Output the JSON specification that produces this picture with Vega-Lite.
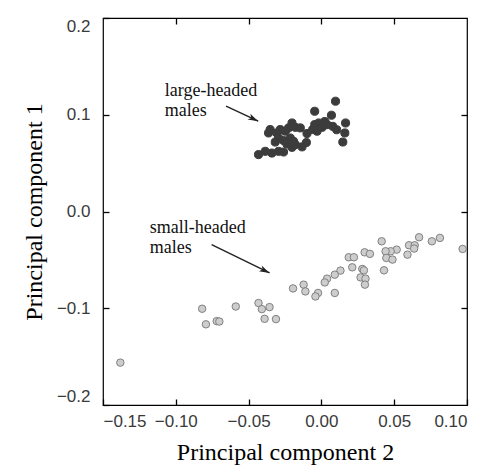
{
  "$schema": "https://vega.github.io/schema/vega-lite/v6.json",
  "width": 364,
  "height": 387,
  "autosize": "none",
  "padding": {"left": 103, "top": 18, "right": 19, "bottom": 64},
  "background": "white",
  "config": {
    "view": {"stroke": "black", "strokeWidth": 1.2},
    "axis": {
      "domain": false,
      "grid": false,
      "tickColor": "black",
      "tickWidth": 1.3,
      "tickSize": 6,
      "offset": -6,
      "labelFont": "Liberation Sans",
      "labelFontSize": 17,
      "labelColor": "#3a3a3a",
      "titleFont": "Liberation Serif",
      "titleFontSize": 24,
      "titleFontWeight": "normal",
      "titleColor": "black"
    }
  },
  "datasets": {
    "pts": [
      {"pc2": 0.0097, "pc1": 0.114, "group": "large"},
      {"pc2": -0.0046, "pc1": 0.1036, "group": "large"},
      {"pc2": 0.0069, "pc1": 0.0995, "group": "large"},
      {"pc2": 0.0166, "pc1": 0.0915, "group": "large"},
      {"pc2": 0.0161, "pc1": 0.0812, "group": "large"},
      {"pc2": 0.0147, "pc1": 0.0718, "group": "large"},
      {"pc2": 0.0078, "pc1": 0.088, "group": "large"},
      {"pc2": 0.0023, "pc1": 0.093, "group": "large"},
      {"pc2": -0.0019, "pc1": 0.0915, "group": "large"},
      {"pc2": -0.0046, "pc1": 0.0898, "group": "large"},
      {"pc2": -0.006, "pc1": 0.0847, "group": "large"},
      {"pc2": -0.003, "pc1": 0.083, "group": "large"},
      {"pc2": 0.0005, "pc1": 0.087, "group": "large"},
      {"pc2": 0.0039, "pc1": 0.0898, "group": "large"},
      {"pc2": 0.0105, "pc1": 0.0845, "group": "large"},
      {"pc2": -0.0099, "pc1": 0.0806, "group": "large"},
      {"pc2": -0.0103, "pc1": 0.0713, "group": "large"},
      {"pc2": -0.0202, "pc1": 0.0915, "group": "large"},
      {"pc2": -0.0179, "pc1": 0.087, "group": "large"},
      {"pc2": -0.0145, "pc1": 0.0864, "group": "large"},
      {"pc2": -0.0225, "pc1": 0.0864, "group": "large"},
      {"pc2": -0.0248, "pc1": 0.083, "group": "large"},
      {"pc2": -0.0283, "pc1": 0.0847, "group": "large"},
      {"pc2": -0.0306, "pc1": 0.0812, "group": "large"},
      {"pc2": -0.0352, "pc1": 0.0847, "group": "large"},
      {"pc2": -0.0363, "pc1": 0.0812, "group": "large"},
      {"pc2": -0.0294, "pc1": 0.076, "group": "large"},
      {"pc2": -0.0317, "pc1": 0.0718, "group": "large"},
      {"pc2": -0.026, "pc1": 0.0733, "group": "large"},
      {"pc2": -0.0214, "pc1": 0.076, "group": "large"},
      {"pc2": -0.0191, "pc1": 0.0725, "group": "large"},
      {"pc2": -0.0237, "pc1": 0.0698, "group": "large"},
      {"pc2": -0.0202, "pc1": 0.0663, "group": "large"},
      {"pc2": -0.0179, "pc1": 0.0691, "group": "large"},
      {"pc2": -0.026, "pc1": 0.0615, "group": "large"},
      {"pc2": -0.0294, "pc1": 0.0622, "group": "large"},
      {"pc2": -0.034, "pc1": 0.0604, "group": "large"},
      {"pc2": -0.0386, "pc1": 0.0622, "group": "large"},
      {"pc2": -0.0432, "pc1": 0.0588, "group": "large"},
      {"pc2": -0.0133, "pc1": 0.0668, "group": "large"},
      {"pc2": 0.0414, "pc1": -0.0308, "group": "small"},
      {"pc2": 0.0671, "pc1": -0.0266, "group": "small"},
      {"pc2": 0.0759, "pc1": -0.0308, "group": "small"},
      {"pc2": 0.0814, "pc1": -0.0273, "group": "small"},
      {"pc2": 0.097, "pc1": -0.0387, "group": "small"},
      {"pc2": 0.0602, "pc1": -0.0349, "group": "small"},
      {"pc2": 0.0641, "pc1": -0.0349, "group": "small"},
      {"pc2": 0.0637, "pc1": -0.0383, "group": "small"},
      {"pc2": 0.0591, "pc1": -0.0446, "group": "small"},
      {"pc2": 0.0517, "pc1": -0.0394, "group": "small"},
      {"pc2": 0.0476, "pc1": -0.0411, "group": "small"},
      {"pc2": 0.0441, "pc1": -0.0411, "group": "small"},
      {"pc2": 0.0446, "pc1": -0.048, "group": "small"},
      {"pc2": 0.0488, "pc1": -0.0497, "group": "small"},
      {"pc2": 0.043, "pc1": -0.0608, "group": "small"},
      {"pc2": 0.0297, "pc1": -0.0422, "group": "small"},
      {"pc2": 0.0333, "pc1": -0.0438, "group": "small"},
      {"pc2": 0.0188, "pc1": -0.0473, "group": "small"},
      {"pc2": 0.0223, "pc1": -0.0473, "group": "small"},
      {"pc2": 0.0212, "pc1": -0.0577, "group": "small"},
      {"pc2": 0.0281, "pc1": -0.0594, "group": "small"},
      {"pc2": 0.0292, "pc1": -0.0608, "group": "small"},
      {"pc2": 0.0269, "pc1": -0.0681, "group": "small"},
      {"pc2": 0.0303, "pc1": -0.0694, "group": "small"},
      {"pc2": 0.0299, "pc1": -0.0756, "group": "small"},
      {"pc2": 0.0131, "pc1": -0.0611, "group": "small"},
      {"pc2": 0.0092, "pc1": -0.0653, "group": "small"},
      {"pc2": 0.0039, "pc1": -0.0694, "group": "small"},
      {"pc2": 0.0023, "pc1": -0.0733, "group": "small"},
      {"pc2": 0.0092, "pc1": -0.0842, "group": "small"},
      {"pc2": -0.0023, "pc1": -0.0842, "group": "small"},
      {"pc2": -0.0041, "pc1": -0.0878, "group": "small"},
      {"pc2": -0.0122, "pc1": -0.0756, "group": "small"},
      {"pc2": -0.011, "pc1": -0.0826, "group": "small"},
      {"pc2": -0.0195, "pc1": -0.0795, "group": "small"},
      {"pc2": -0.0819, "pc1": -0.1005, "group": "small"},
      {"pc2": -0.0793, "pc1": -0.1166, "group": "small"},
      {"pc2": -0.0719, "pc1": -0.1133, "group": "small"},
      {"pc2": -0.0701, "pc1": -0.1137, "group": "small"},
      {"pc2": -0.0588, "pc1": -0.0982, "group": "small"},
      {"pc2": -0.0432, "pc1": -0.0946, "group": "small"},
      {"pc2": -0.0409, "pc1": -0.1009, "group": "small"},
      {"pc2": -0.0356, "pc1": -0.0988, "group": "small"},
      {"pc2": -0.039, "pc1": -0.1109, "group": "small"},
      {"pc2": -0.0312, "pc1": -0.1112, "group": "small"},
      {"pc2": -0.1381, "pc1": -0.1562, "group": "small"}
    ],
    "notes": [
      {"x": -0.1076, "y": 0.1192, "text": "large-headed"},
      {"x": -0.1076, "y": 0.0984, "text": "males"},
      {"x": -0.1179, "y": -0.0218, "text": "small-headed"},
      {"x": -0.1179, "y": -0.0425, "text": "males"}
    ],
    "arrows": [
      {"x0": -0.0655, "y0": 0.1088, "x1": -0.0434, "y1": 0.0933},
      {"x0": -0.0754, "y0": -0.0342, "x1": -0.0356, "y1": -0.0635}
    ]
  },
  "layer": [
    {
      "data": {"name": "pts"},
      "mark": {"type": "point", "filled": true, "strokeWidth": 1, "opacity": 1},
      "encoding": {
        "x": {
          "field": "pc2", "type": "quantitative",
          "scale": {"domain": [-0.15, 0.1], "nice": false, "zero": false},
          "axis": {"orient": "bottom", "title": "Principal component 2", "values": [-0.15, -0.1, -0.05, 0, 0.05, 0.1], "format": ".2f", "labelFlush": 2, "labelPadding": 8, "titlePadding": 11}
        },
        "y": {
          "field": "pc1", "type": "quantitative",
          "scale": {"domain": [-0.2, 0.2], "nice": false, "zero": false},
          "axis": {"orient": "left", "title": "Principal component 1", "values": [-0.2, -0.1, 0, 0.1, 0.2], "format": ".1f", "labelFlush": 3, "labelPadding": 13, "titlePadding": 10}
        },
        "fill": {"field": "group", "type": "nominal", "scale": {"domain": ["large", "small"], "range": ["#3c3c3c", "#cdcdcd"]}, "legend": null},
        "stroke": {"field": "group", "type": "nominal", "scale": {"domain": ["large", "small"], "range": ["#3c3c3c", "#808080"]}, "legend": null},
        "size": {"field": "group", "type": "nominal", "scale": {"domain": ["large", "small"], "range": [66, 56]}, "legend": null}
      }
    },
    {
      "data": {"name": "arrows"},
      "mark": {"type": "rule", "color": "#222222", "strokeWidth": 1.4},
      "encoding": {
        "x": {"field": "x0", "type": "quantitative", "scale": {"domain": [-0.15, 0.1], "nice": false, "zero": false}, "axis": null},
        "y": {"field": "y0", "type": "quantitative", "scale": {"domain": [-0.2, 0.2], "nice": false, "zero": false}, "axis": null},
        "x2": {"field": "x1"},
        "y2": {"field": "y1"}
      }
    },
    {
      "data": {"name": "arrows"},
      "mark": {"type": "point", "shape": "M0,0L0.7,2.3L0,1.7L-0.7,2.3Z", "angle": 116, "filled": true, "size": 81, "color": "#222222", "opacity": 1},
      "encoding": {
        "x": {"field": "x1", "type": "quantitative", "scale": {"domain": [-0.15, 0.1], "nice": false, "zero": false}, "axis": null},
        "y": {"field": "y1", "type": "quantitative", "scale": {"domain": [-0.2, 0.2], "nice": false, "zero": false}, "axis": null}
      }
    },
    {
      "data": {"name": "notes"},
      "mark": {"type": "text", "align": "left", "baseline": "alphabetic", "font": "Liberation Serif", "fontSize": 18, "color": "#111111"},
      "encoding": {
        "x": {"field": "x", "type": "quantitative", "scale": {"domain": [-0.15, 0.1], "nice": false, "zero": false},
          "axis": {"orient": "top", "title": null, "labels": false, "values": [-0.1, -0.05, 0, 0.05]}},
        "y": {"field": "y", "type": "quantitative", "scale": {"domain": [-0.2, 0.2], "nice": false, "zero": false},
          "axis": {"orient": "right", "title": null, "labels": false, "values": [-0.1, 0, 0.1]}},
        "text": {"field": "text", "type": "nominal"}
      }
    }
  ],
  "resolve": {"axis": {"x": "independent", "y": "independent"}}
}
